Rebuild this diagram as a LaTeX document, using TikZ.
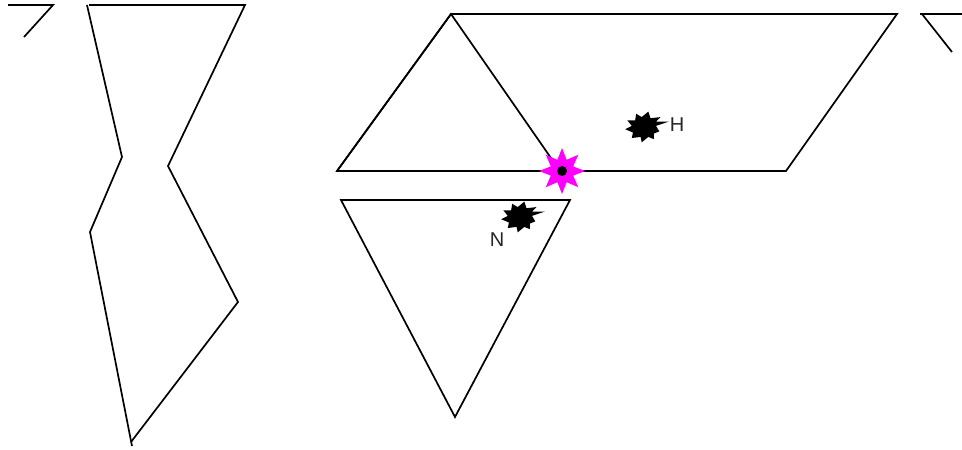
\documentclass[tikz,border=0pt]{standalone}
\usepackage{fontspec}
\setmainfont{Liberation Sans}
\usetikzlibrary{shapes.geometric}
\definecolor{starpink}{RGB}{255,0,255}
\begin{document}
\begin{tikzpicture}[x=1pt,y=-1pt,
  edge/.style={line width=1.7pt, line join=miter},
  lbl/.style={font=\fontsize{20}{20}\selectfont, text=black!85, inner sep=0pt},
  blob/.pic={\fill[black, scale=1.1] (22,-5) -- (10,-1) -- (13,4) -- (8,6) -- (8,11) -- (3,9) -- (-3,14) -- (-4,9) -- (-12,10) -- (-11,5) -- (-18,2) -- (-12,-1) -- (-16,-6) -- (-9,-6) -- (-8,-12) -- (-3,-9) -- (3,-14) -- (5,-8) -- (14,-9) -- (10,-5) -- cycle;}]
\useasboundingbox (0,0) rectangle (962,450);
% top-left fragment
\draw[edge] (8,5) -- (53,5) -- (24,37);
% left shape
\draw[edge] (89,5) -- (245,5) -- (168,166) -- (238,302) -- (131,442);
\draw[edge] (87,5) -- (122,157) -- (90,232) -- (132,446);
% large triangle and parallelogram
\draw[edge] (337,171) -- (451,14) -- (560,171);
\draw[edge] (451,14) -- (897,14) -- (786,171) -- (337,171) -- cycle;
% lower triangle
\draw[edge] (341,200) -- (570,200) -- (455,417) -- cycle;
% top-right fragment
\draw[edge] (920,14) -- (962,14);
\draw[edge] (922,14) -- (952,52);
% star
\node[star, star points=8, star point ratio=1.9, minimum size=46pt, inner sep=0pt, fill=starpink] (st) at (562,171) {};
\fill[black] (st.center) circle (5pt);
% blobs
\pic at (645,127) {blob};
\pic at (521,217) {blob};
\node[lbl] (h) at (677,125) {H};
\node[lbl] (n) at (497,240) {N};
\end{tikzpicture}
\end{document}
